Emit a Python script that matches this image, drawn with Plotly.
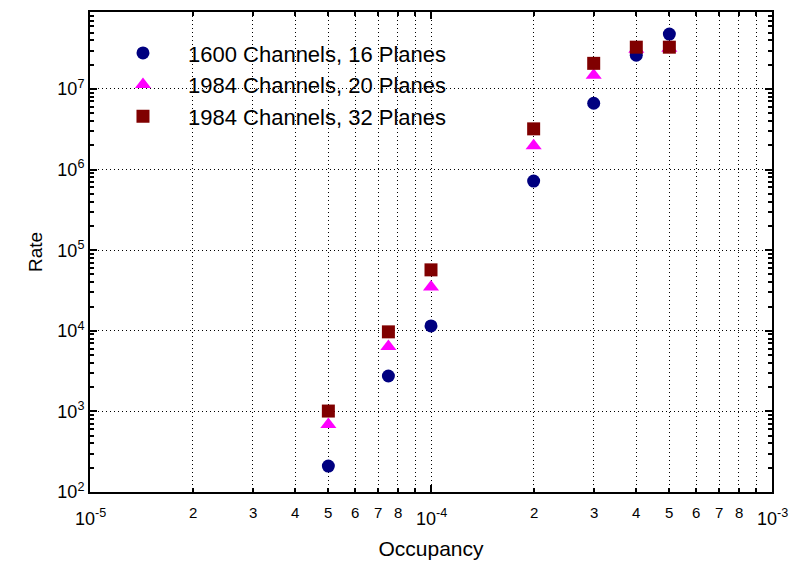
import math
import plotly.graph_objects as go

# ---- data ----
occupancy = [5e-5, 7.5e-5, 1e-4, 2e-4, 3e-4, 4e-4, 5e-4]
rate_1600_16 = [210, 2750, 11500, 7.2e5, 6.65e6, 2.63e7, 4.8e7]
rate_1984_20 = [690, 6400, 35000, 1.98e6, 1.48e7, 3.1e7, 3.2e7]
rate_1984_32 = [1010, 9700, 57000, 3.2e6, 2.08e7, 3.3e7, 3.3e7]

series_names = ["1600 Channels, 16 Planes", "1984 Channels, 20 Planes", "1984 Channels, 32 Planes"]

x_major_vals = [1e-5, 1e-4, 1e-3]
x_major_text = ["10<sup>-5</sup>", "10<sup>-4</sup>", "10<sup>-3</sup>"]
x_minor_vals = [d * m for d in [1e-5, 1e-4] for m in range(2, 10)]
x_minor_text = [str(m) if m < 9 else "" for d in [1e-5, 1e-4] for m in range(2, 10)]

y_major_vals = [1e2, 1e3, 1e4, 1e5, 1e6, 1e7]
y_major_text = ["10<sup>2</sup>", "10<sup>3</sup>", "10<sup>4</sup>", "10<sup>5</sup>",
                "10<sup>6</sup>", "10<sup>7</sup>"]
y_minor_vals = [d * m for d in [1e2, 1e3, 1e4, 1e5, 1e6, 1e7] for m in range(2, 10)]

FONT = "Liberation Sans, Arial, sans-serif"
DOTS = "1px,3px"

fig = go.Figure()
fig.add_trace(go.Scatter(x=occupancy, y=rate_1600_16, mode="markers", name=series_names[0],
                         marker=dict(symbol="circle", size=13, color="#000080")))
fig.add_trace(go.Scatter(x=occupancy, y=rate_1984_20, mode="markers", name=series_names[1],
                         marker=dict(symbol="triangle-up", size=14, color="#FF00FF")))
fig.add_trace(go.Scatter(x=occupancy, y=rate_1984_32, mode="markers", name=series_names[2],
                         marker=dict(symbol="square", size=13, color="#800000")))

# x tick labels as annotations (log axes take log10 positions for annotations)
annotations = []
for v, t in zip(x_major_vals, x_major_text):
    annotations.append(dict(x=math.log10(v), y=0, xref="x", yref="paper", text=t, showarrow=False,
                            xanchor="center", yanchor="top", yshift=-12,
                            font=dict(family=FONT, size=18, color="black")))
for v, t in zip(x_minor_vals, x_minor_text):
    if t:
        annotations.append(dict(x=math.log10(v), y=0, xref="x", yref="paper", text=t, showarrow=False,
                                xanchor="center", yanchor="top", yshift=-10,
                                font=dict(family=FONT, size=15, color="black")))

fig.update_layout(
    width=792, height=565,
    margin=dict(l=90, r=20, t=10, b=73),
    paper_bgcolor="white", plot_bgcolor="white",
    font=dict(family=FONT, color="black"),
    showlegend=True,
    legend=dict(x=0.0117, y=0.958, xanchor="left", yanchor="top", bgcolor="rgba(0,0,0,0)",
                font=dict(family=FONT, size=22, color="black"), itemwidth=80),
    annotations=annotations,
    xaxis=dict(
        type="log", range=[-5, -3],
        tickvals=x_major_vals, showticklabels=False,
        ticks="inside", ticklen=7, tickwidth=1.5, tickcolor="black",
        showline=True, linecolor="black", linewidth=2, mirror="allticks",
        showgrid=True, gridcolor="black", gridwidth=1, griddash=DOTS,
        zeroline=False,
        minor=dict(tickvals=x_minor_vals, ticks="inside", ticklen=4, tickcolor="black",
                   showgrid=True, gridcolor="black", gridwidth=1, griddash=DOTS),
        title=dict(text="Occupancy", font=dict(family=FONT, size=21, color="black"), standoff=48),
    ),
    yaxis=dict(
        type="log", range=[2, 7.955],
        tickvals=y_major_vals, ticktext=y_major_text,
        tickfont=dict(family=FONT, size=18, color="black"),
        ticks="inside", ticklen=7, tickwidth=1.5, tickcolor="black",
        showline=True, linecolor="black", linewidth=2, mirror="allticks",
        showgrid=True, gridcolor="black", gridwidth=1, griddash=DOTS,
        zeroline=False,
        minor=dict(tickvals=y_minor_vals, ticks="inside", ticklen=4, tickcolor="black",
                   showgrid=False),
        title=dict(text="Rate", font=dict(family=FONT, size=19, color="black"), standoff=10),
    ),
)

fig.write_html("out.html")
